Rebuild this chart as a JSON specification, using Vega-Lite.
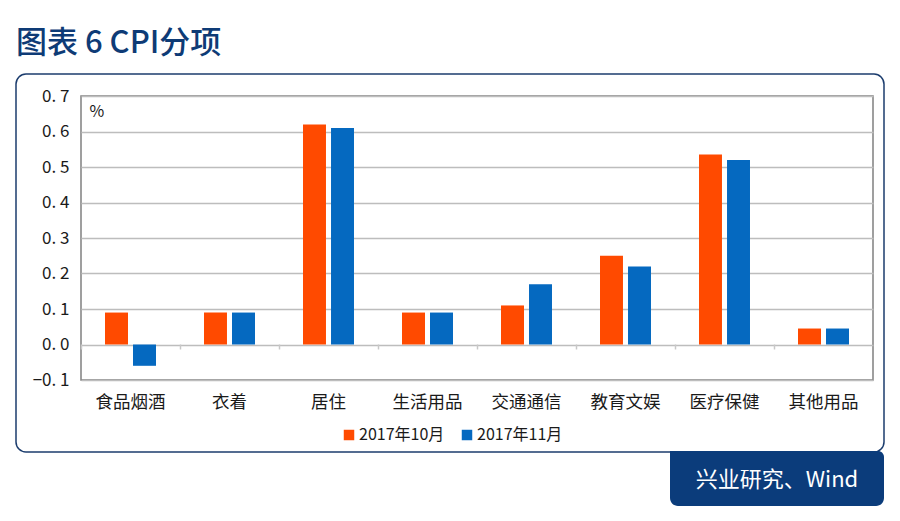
{
  "$schema": "https://vega.github.io/schema/vega-lite/v6.json",
  "autosize": {"type": "none"},
  "width": 792,
  "height": 284,
  "padding": {"left": 81, "top": 96, "right": 27, "bottom": 141},
  "background": "white",
  "title": {
    "text": "图表 6 CPI分项",
    "anchor": "start",
    "frame": "group",
    "dx": -65,
    "dy": 17,
    "offset": 30,
    "fontSize": 31,
    "font": "Noto Sans CJK SC",
    "fontWeight": 500,
    "color": "#0e3b76"
  },
  "config": {
    "view": {"stroke": "#808080", "strokeWidth": 1.5},
    "font": "Noto Sans CJK SC"
  },
  "resolve": {"axis": {"x": "independent"}},
  "datasets": {
    "cpi": [
      {"category": "食品烟酒", "series": "2017年10月", "value": 0.09},
      {"category": "食品烟酒", "series": "2017年11月", "value": -0.06},
      {"category": "衣着", "series": "2017年10月", "value": 0.09},
      {"category": "衣着", "series": "2017年11月", "value": 0.09},
      {"category": "居住", "series": "2017年10月", "value": 0.62},
      {"category": "居住", "series": "2017年11月", "value": 0.61},
      {"category": "生活用品", "series": "2017年10月", "value": 0.09},
      {"category": "生活用品", "series": "2017年11月", "value": 0.09},
      {"category": "交通通信", "series": "2017年10月", "value": 0.11},
      {"category": "交通通信", "series": "2017年11月", "value": 0.17},
      {"category": "教育文娱", "series": "2017年10月", "value": 0.25},
      {"category": "教育文娱", "series": "2017年11月", "value": 0.22},
      {"category": "医疗保健", "series": "2017年10月", "value": 0.535},
      {"category": "医疗保健", "series": "2017年11月", "value": 0.52},
      {"category": "其他用品", "series": "2017年10月", "value": 0.045},
      {"category": "其他用品", "series": "2017年11月", "value": 0.045}
    ]
  },
  "layer": [
    {
      "data": {"values": [{}]},
      "mark": {"type": "rect", "fill": "transparent", "stroke": "#1c3d6e", "strokeWidth": 1.5, "cornerRadius": 10, "clip": false},
      "encoding": {
        "x": {"value": -65},
        "x2": {"value": 803},
        "y": {"value": -22},
        "y2": {"value": 356}
      }
    },
    {
      "data": {"values": [{}]},
      "mark": {"type": "rect", "fill": "#0b3c7b", "cornerRadiusBottomLeft": 8, "cornerRadiusBottomRight": 8, "cornerRadiusTopRight": 6, "clip": false},
      "encoding": {
        "x": {"value": 589},
        "x2": {"value": 803},
        "y": {"value": 355},
        "y2": {"value": 410}
      }
    },
    {
      "data": {"values": [{"source": "兴业研究、Wind"}]},
      "mark": {"type": "text", "color": "white", "fontSize": 22, "font": "Noto Sans CJK SC", "align": "center", "baseline": "middle", "clip": false},
      "encoding": {
        "text": {"field": "source"},
        "x": {"value": 696},
        "y": {"value": 384}
      }
    },
    {
      "data": {"name": "cpi"},
      "mark": {"type": "tick", "opacity": 0},
      "encoding": {
        "x": {
          "field": "category",
          "type": "nominal",
          "sort": null,
          "axis": {
            "title": null,
            "orient": "bottom",
            "offset": -36,
            "labels": false,
            "domain": false,
            "grid": false,
            "ticks": true,
            "tickSize": 5,
            "tickColor": "#c8c8c8",
            "tickWidth": 1.5,
            "bandPosition": 0,
            "tickOffset": -24
          }
        }
      }
    },
    {
      "data": {"name": "cpi"},
      "mark": {"type": "bar"},
      "encoding": {
        "x": {
          "field": "category",
          "type": "nominal",
          "sort": null,
          "scale": {"paddingInner": 0.485, "paddingOuter": 0.2425},
          "axis": {
            "title": null,
            "orient": "bottom",
            "labelAngle": 0,
            "labelFontSize": 17.5,
            "labelColor": "#1a1a1a",
            "labelPadding": 13,
            "ticks": false,
            "domain": false,
            "grid": false
          }
        },
        "xOffset": {
          "field": "series",
          "type": "nominal",
          "scale": {"paddingInner": 0.18, "paddingOuter": 0}
        },
        "y": {
          "field": "value",
          "type": "quantitative",
          "scale": {"domain": [-0.1, 0.7], "nice": false, "zero": false},
          "axis": {
            "title": "%",
            "titleAngle": 0,
            "titleX": 8,
            "titleY": 20,
            "titleAlign": "left",
            "titleBaseline": "alphabetic",
            "titleFontSize": 16,
            "titleFontWeight": "normal",
            "titleColor": "#1a1a1a",
            "values": [-0.1, 0, 0.1, 0.2, 0.3, 0.4, 0.5, 0.6, 0.7],
            "labelExpr": "replace(format(datum.value, '.1f'), '.', '. ')",
            "labelFontSize": 17,
            "labelColor": "#1a1a1a",
            "labelPadding": 12,
            "ticks": false,
            "domain": false,
            "grid": true,
            "gridColor": "#bdbdbd",
            "gridWidth": 1.5
          }
        },
        "color": {
          "field": "series",
          "type": "nominal",
          "scale": {"domain": ["2017年10月", "2017年11月"], "range": ["#ff4a00", "#0569c0"]},
          "legend": {
            "title": null,
            "orient": "none",
            "direction": "horizontal",
            "legendX": 260,
            "legendY": 331,
            "symbolType": "square",
            "symbolSize": 110,
            "symbolStrokeWidth": 0,
            "symbolOffset": 0,
            "labelOffset": 2,
            "labelFontSize": 16,
            "labelColor": "#1a1a1a",
            "columnPadding": 14
          }
        }
      }
    }
  ]
}
